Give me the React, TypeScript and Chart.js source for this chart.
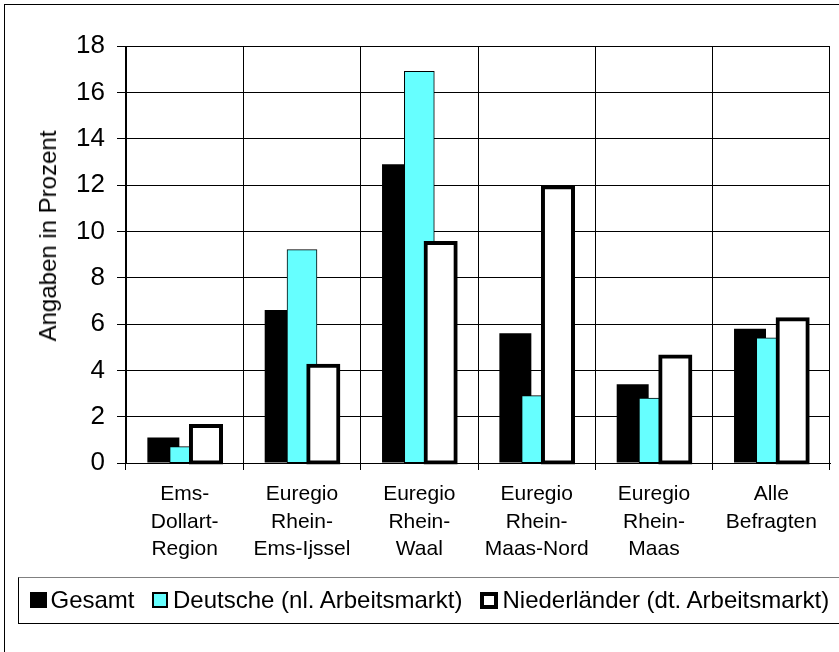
import { useEffect, useRef } from 'react';
import { Chart, registerables } from 'chart.js';

Chart.register(...registerables);

const FONT = "'Liberation Sans', Arial, Helvetica, sans-serif";

// Regions (multi-line category labels)
const regions: string[][] = [
  ['Ems-', 'Dollart-', 'Region'],
  ['Euregio', 'Rhein-', 'Ems-Ijssel'],
  ['Euregio', 'Rhein-', 'Waal'],
  ['Euregio', 'Rhein-', 'Maas-Nord'],
  ['Euregio', 'Rhein-', 'Maas'],
  ['Alle', 'Befragten'],
];

// Shares in percent
const gesamt = [1.1, 6.6, 12.9, 5.6, 3.4, 5.8];
const deutsche = [0.7, 9.2, 16.9, 2.9, 2.8, 5.4];
const niederlaender = [1.6, 4.2, 9.5, 11.9, 4.6, 6.2];

const seriesNames = ['Gesamt', 'Deutsche (nl. Arbeitsmarkt)', 'Niederländer (dt. Arbeitsmarkt)'];
const yTicks = [0, 2, 4, 6, 8, 10, 12, 14, 16, 18];
const yTitle = 'Angaben in Prozent';

const CYAN = '#66FFFF';

// Paint the series in their own order so each later series overlaps the earlier one.
const paintInSeriesOrder = {
  id: 'paintInSeriesOrder',
  beforeDatasetsDraw(chart: any) {
    chart.getSortedVisibleDatasetMetas().forEach((meta: any) => meta.controller.draw());
    return false;
  },
};

export default function App() {
  const canvasRef = useRef<HTMLCanvasElement>(null);

  useEffect(() => {
    if (!canvasRef.current) return;
    Chart.defaults.font.family = FONT;
    Chart.defaults.color = '#000';

    const chart = new Chart(canvasRef.current, {
      type: 'bar',
      data: {
        labels: regions,
        datasets: [
          {
            label: seriesNames[0],
            data: gesamt,
            backgroundColor: '#000',
            borderColor: '#000',
            borderWidth: 0,
            borderSkipped: false,
            barPercentage: 1.5,
            categoryPercentage: 0.545,
            inflateAmount: 0,
          },
          {
            label: seriesNames[1],
            data: deutsche,
            backgroundColor: CYAN,
            borderColor: '#000',
            borderWidth: 1,
            borderSkipped: false,
            barPercentage: 1.39,
            categoryPercentage: 0.545,
            inflateAmount: 0.5,
          },
          {
            label: seriesNames[2],
            data: niederlaender,
            backgroundColor: '#fff',
            borderColor: '#000',
            borderWidth: 4,
            borderSkipped: false,
            barPercentage: 1.41,
            categoryPercentage: 0.545,
            inflateAmount: 2,
          },
        ],
      },
      options: {
        responsive: false,
        animation: false,
        devicePixelRatio: 1,
        layout: { padding: { left: 0, top: 46, right: 9, bottom: 0 } },
        plugins: {
          legend: { display: false },
          tooltip: { enabled: false },
        },
        scales: {
          x: {
            offset: true,
            grid: { offset: true, color: '#000', lineWidth: 1, tickLength: 7, drawTicks: true },
            border: { display: true, color: '#000', width: 1 },
            ticks: {
              color: '#000',
              font: { size: 21, lineHeight: 1.3, family: FONT },
              padding: 11,
              maxRotation: 0,
              minRotation: 0,
              autoSkip: false,
            },
            afterFit: (s: any) => {
              s.height = 189;
            },
          },
          y: {
            min: 0,
            max: 18,
            afterBuildTicks: (s: any) => {
              s.ticks = yTicks.map((v) => ({ value: v }));
            },
            grid: { color: '#000', lineWidth: 1, tickLength: 9, drawTicks: true },
            border: { display: true, color: '#000', width: 1 },
            ticks: {
              color: '#000',
              font: { size: 26, family: FONT },
              padding: 12,
            },
            afterFit: (s: any) => {
              s.width = 126;
            },
          },
        },
      },
      plugins: [paintInSeriesOrder],
    });

    return () => chart.destroy();
  }, []);

  const keys = [
    { width: 17, height: 16.5, background: '#000', border: 'none', gap: 4 },
    { width: 16, height: 16, background: CYAN, border: '2px solid #000', gap: 5 },
    { width: 18.5, height: 17, background: '#fff', border: '4px solid #000', gap: 4 },
  ];

  return (
    <div
      style={{
        position: 'absolute',
        left: 0,
        top: 0,
        width: 839,
        height: 652,
        overflow: 'hidden',
        background: '#fff',
        fontFamily: FONT,
        color: '#000',
      }}
    >
      <div
        style={{
          position: 'absolute',
          left: 4,
          top: 4,
          width: 900,
          height: 700,
          border: '1px solid #000',
        }}
      />
      <canvas
        ref={canvasRef}
        width={839}
        height={652}
        style={{ position: 'absolute', left: 0, top: 0, width: 839, height: 652 }}
      />
      <div
        style={{
          position: 'absolute',
          left: 48,
          top: 236,
          transform: 'translate(-50%, -50%) rotate(-90deg)',
          fontSize: 24,
          lineHeight: '24px',
          whiteSpace: 'nowrap',
        }}
      >
        {yTitle}
      </div>
      <div
        style={{
          position: 'absolute',
          left: 18,
          top: 577,
          width: 900,
          height: 47,
          boxSizing: 'border-box',
          border: '1px solid #000',
          borderTopColor: '#808080',
        }}
      />
      <div
        style={{
          position: 'absolute',
          left: 29.5,
          top: 588,
          display: 'flex',
          alignItems: 'center',
          whiteSpace: 'nowrap',
          fontSize: 24,
          lineHeight: '24px',
        }}
      >
        {seriesNames.map((name, i) => (
          <div
            key={name}
            style={{ display: 'flex', alignItems: 'center', marginRight: i < seriesNames.length - 1 ? 17.5 : 0 }}
          >
            <span
              style={{
                display: 'inline-block',
                boxSizing: 'border-box',
                width: keys[i].width,
                height: keys[i].height,
                background: keys[i].background,
                border: keys[i].border,
                marginRight: keys[i].gap,
              }}
            />
            <span>{name}</span>
          </div>
        ))}
      </div>
    </div>
  );
}
